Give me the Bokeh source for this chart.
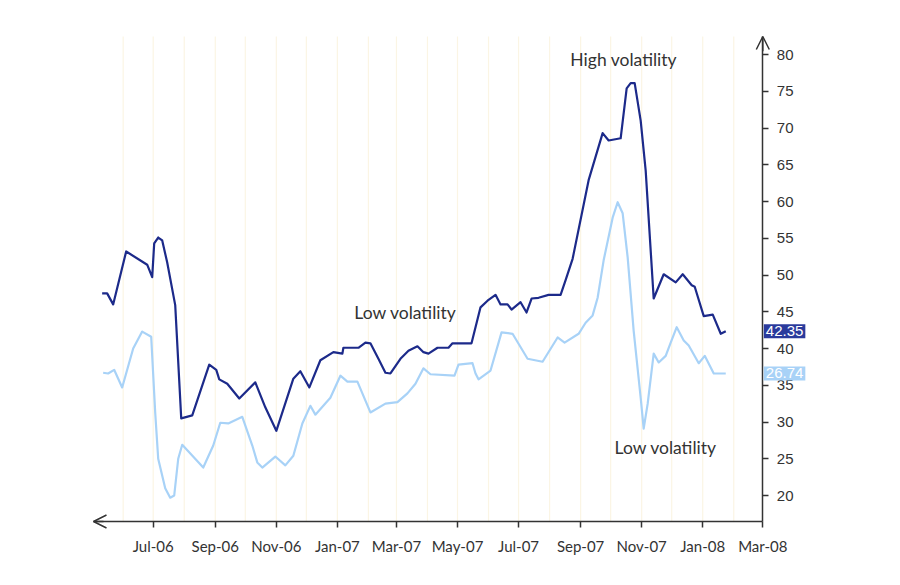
import pandas as pd
from bokeh.plotting import figure
from bokeh.models import (ColumnDataSource, FixedTicker, DatetimeTickFormatter, Label,
                          Arrow, OpenHead, Range1d, DatetimeAxis, LinearAxis)
from bokeh.embed import file_html
from bokeh.resources import INLINE

# ---- data ----
dark_dates = ["2006-05-11", "2006-05-16", "2006-05-22", "2006-06-04", "2006-06-25", "2006-06-30",
              "2006-07-02", "2006-07-06", "2006-07-10", "2006-07-15", "2006-07-23", "2006-07-29",
              "2006-08-09", "2006-08-26", "2006-09-02", "2006-09-05", "2006-09-13", "2006-09-25",
              "2006-10-11", "2006-10-21", "2006-11-01", "2006-11-18", "2006-11-25", "2006-12-04",
              "2006-12-15", "2006-12-28", "2007-01-06", "2007-01-07", "2007-01-22", "2007-01-29",
              "2007-02-03", "2007-02-11", "2007-02-18", "2007-02-23", "2007-03-05", "2007-03-13",
              "2007-03-22", "2007-03-28", "2007-04-02", "2007-04-11", "2007-04-22", "2007-04-26",
              "2007-05-15", "2007-05-24", "2007-05-31", "2007-06-08", "2007-06-13", "2007-06-20",
              "2007-06-24", "2007-07-03", "2007-07-09", "2007-07-14", "2007-07-21", "2007-07-31",
              "2007-08-12", "2007-08-17", "2007-08-24", "2007-09-09", "2007-09-23", "2007-09-29",
              "2007-10-11", "2007-10-17", "2007-10-21", "2007-10-25", "2007-10-31", "2007-11-05",
              "2007-11-13", "2007-11-23", "2007-12-05", "2007-12-12", "2007-12-21", "2007-12-24",
              "2008-01-02", "2008-01-11", "2008-01-19", "2008-01-24"]
dark_values = [47.5, 47.5, 46.0, 53.2, 51.4, 49.7,
               54.3, 55.1, 54.7, 51.7, 45.9, 30.5,
               30.9, 37.8, 37.1, 35.8, 35.2, 33.2,
               35.4, 32.0, 28.8, 35.9, 36.9, 34.7,
               38.4, 39.5, 39.3, 40.1, 40.1, 40.8,
               40.7, 38.6, 36.7, 36.6, 38.6, 39.7,
               40.3, 39.5, 39.3, 40.1, 40.1, 40.7,
               40.7, 45.6, 46.5, 47.3, 46.0, 46.0,
               45.3, 46.3, 44.9, 46.8, 46.9, 47.3,
               47.3, 49.3, 52.2, 62.9, 69.3, 68.3,
               68.6, 75.4, 76.1, 76.1, 71.0, 64.2,
               46.8, 50.1, 49.0, 50.1, 48.6, 48.4,
               44.4, 44.6, 42.0, 42.35]

light_dates = ["2006-05-12", "2006-05-17", "2006-05-23", "2006-05-31", "2006-06-11", "2006-06-20",
               "2006-06-29", "2006-07-03", "2006-07-06", "2006-07-13", "2006-07-18", "2006-07-22",
               "2006-07-26", "2006-07-30", "2006-08-20", "2006-08-30", "2006-09-06", "2006-09-14",
               "2006-09-28", "2006-10-08", "2006-10-13", "2006-10-18", "2006-10-31", "2006-11-10",
               "2006-11-18", "2006-11-27", "2006-12-05", "2006-12-10", "2006-12-25", "2007-01-04",
               "2007-01-11", "2007-01-21", "2007-02-03", "2007-02-18", "2007-03-02", "2007-03-12",
               "2007-03-20", "2007-03-28", "2007-04-04", "2007-04-28", "2007-05-02", "2007-05-16",
               "2007-05-19", "2007-05-22", "2007-06-03", "2007-06-14", "2007-06-25", "2007-07-10",
               "2007-07-25", "2007-08-09", "2007-08-16", "2007-08-30", "2007-09-06", "2007-09-13",
               "2007-09-18", "2007-09-24", "2007-10-03", "2007-10-08", "2007-10-13", "2007-10-18",
               "2007-10-24", "2007-10-31", "2007-11-03", "2007-11-07", "2007-11-13", "2007-11-18",
               "2007-11-25", "2007-11-30", "2007-12-06", "2007-12-13", "2007-12-18", "2007-12-28",
               "2008-01-03", "2008-01-12", "2008-01-24"]
light_values = [36.7, 36.6, 37.1, 34.7, 40.0, 42.3,
                41.6, 31.3, 25.0, 21.0, 19.7, 20.0,
                25.0, 26.9, 23.8, 26.8, 29.9, 29.8,
                30.7, 26.8, 24.5, 23.8, 25.3, 24.1,
                25.4, 29.8, 32.2, 31.0, 33.3, 36.3,
                35.5, 35.5, 31.3, 32.5, 32.7, 33.9,
                35.2, 37.3, 36.5, 36.3, 37.8, 38.0,
                36.6, 35.8, 37.0, 42.2, 42.0, 38.6,
                38.2, 41.5, 40.8, 42.0, 43.5, 44.5,
                46.9, 52.0, 57.8, 59.9, 58.4, 52.4,
                42.4, 33.3, 29.1, 32.5, 39.3, 38.1,
                39.0, 40.8, 42.9, 41.1, 40.4, 38.0,
                39.0, 36.6, 36.6]

badge_texts = ["42.35", "26.74"]
annotation_texts = ["High volatility", "Low volatility", "Low volatility"]
annotation_dates = ["2007-10-14", "2007-03-10", "2007-11-25"]
annotation_values = [79.3, 44.9, 26.5]
tick_months = ["2006-07-01", "2006-09-01", "2006-11-01", "2007-01-01", "2007-03-01", "2007-05-01",
               "2007-07-01", "2007-09-01", "2007-11-01", "2008-01-01", "2008-03-01"]
y_ticks = [20, 25, 30, 35, 40, 45, 50, 55, 60, 65, 70, 75, 80]

DARK = "#1c2a8a"
LIGHT = "#a8d2f7"
AXIS = "#333333"

# ---- layout geometry (pixels) ----
W, H = 884, 569
BL, BR, BT, BB = 80, 45, 20, 8           # borders -> frame spans x 80..839, y 20..561
REF = pd.Timestamp("2006-07-01")
REF_PX, END_PX = 152.7, 762.3            # Jul-06 tick, Mar-08 tick (= y axis)
AX_END = pd.Timestamp("2008-03-01")
PPD = (END_PX - REF_PX) / (AX_END - REF).days
Y20_PX, PPU = 495.0, 7.35


def px_to_date(px):
    return REF + pd.Timedelta(days=(px - REF_PX) / PPD)


def py_to_val(py):
    return 20 + (Y20_PX - py) / PPU


x_lo, x_hi = px_to_date(BL), px_to_date(W - BR)
y_lo, y_hi = py_to_val(H - BB), py_to_val(BT)
ax_x0 = px_to_date(93)          # left end of x axis
ax_y0 = py_to_val(521)          # bottom of y axis (x axis position)
ax_y1 = py_to_val(36)           # top of y axis

p = figure(width=W, height=H, x_axis_location=None, y_axis_location=None,
           output_backend="svg", toolbar_location=None,
           x_range=Range1d(x_lo, x_hi), y_range=Range1d(y_lo, y_hi),
           min_border_left=BL, min_border_right=BR, min_border_top=BT, min_border_bottom=BB)
p.outline_line_color = None
p.background_fill_color = "white"
p.xgrid.visible = False
p.ygrid.visible = False

# monthly vertical guide lines
month_grid = pd.date_range("2006-06-01", "2008-02-01", freq="MS")
p.segment(x0=month_grid, x1=month_grid, y0=[ax_y0] * len(month_grid), y1=[ax_y1] * len(month_grid),
          line_color="#fbf5e4", line_width=1.2)

src_d = ColumnDataSource(dict(x=pd.to_datetime(dark_dates), y=dark_values))
src_l = ColumnDataSource(dict(x=pd.to_datetime(light_dates), y=light_values))
p.line("x", "y", source=src_l, line_color=LIGHT, line_width=2.2, line_join="round")
p.line("x", "y", source=src_d, line_color=DARK, line_width=2.2, line_join="round")

# axes at fixed locations
xaxis = DatetimeAxis(fixed_location=ax_y0, bounds=(ax_x0, AX_END))
xaxis.ticker = FixedTicker(ticks=[pd.Timestamp(t).value / 1e6 for t in tick_months])
xaxis.formatter = DatetimeTickFormatter(months="%b-%y", days="%b-%y", years="%b-%y")
yaxis = LinearAxis(fixed_location=AX_END.value / 1e6, bounds=(ax_y0, ax_y1))
yaxis.ticker = FixedTicker(ticks=y_ticks)
for ax in (xaxis, yaxis):
    ax.axis_line_color = AXIS
    ax.axis_line_width = 1.5
    ax.major_tick_line_color = AXIS
    ax.major_tick_line_width = 1.5
    ax.major_tick_out = 6
    ax.major_tick_in = 0
    ax.minor_tick_line_color = None
    ax.major_label_text_color = AXIS
xaxis.major_label_text_font = "Lato"
xaxis.major_label_text_font_size = "15px"
yaxis.major_label_text_font = "Liberation Sans"
yaxis.major_label_text_font_size = "15px"
xaxis.major_label_standoff = 9
yaxis.major_label_standoff = 8
p.add_layout(xaxis, "below")
p.add_layout(yaxis, "right")

# axis arrows
p.add_layout(Arrow(end=OpenHead(size=13, line_color=AXIS, line_width=1.5),
                   x_start=ax_x0 + pd.Timedelta(days=10), y_start=ax_y0,
                   x_end=ax_x0, y_end=ax_y0, line_color=AXIS, line_width=1.5))
p.add_layout(Arrow(end=OpenHead(size=13, line_color=AXIS, line_width=1.5),
                   x_start=AX_END, y_start=ax_y1 - 2,
                   x_end=AX_END, y_end=ax_y1, line_color=AXIS, line_width=1.5))

# end-value badges
for txt, val, col in [(badge_texts[0], dark_values[-1], "#2a3a9c"),
                      (badge_texts[1], light_values[-1], LIGHT)]:
    p.add_layout(Label(x=AX_END, y=val, text=txt, x_offset=1, text_align="left", text_baseline="middle",
                       text_color="white", text_font="Liberation Sans", text_font_size="15px",
                       background_fill_color=col, padding=2))

for txt, d, v in zip(annotation_texts, annotation_dates, annotation_values):
    p.add_layout(Label(x=pd.Timestamp(d), y=v, text=txt, text_align="center", text_baseline="middle",
                       text_color=AXIS, text_font="Lato", text_font_size="17.5px"))

open("out.html", "w").write(file_html(p, INLINE))
